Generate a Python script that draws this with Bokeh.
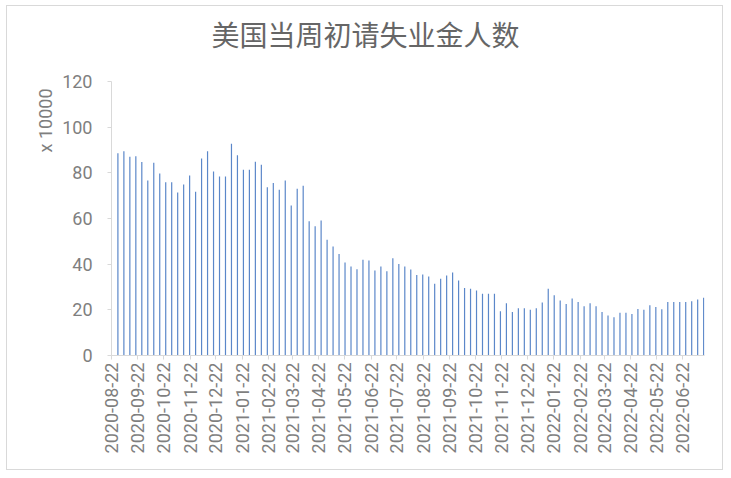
import pandas as pd
from math import pi
from bokeh.plotting import figure
from bokeh.models import (FixedTicker, DatetimeTickFormatter, Range1d,
                          ColumnDataSource, Title)
from bokeh.embed import file_html
from bokeh.resources import INLINE

title_text = "美国当周初请失业金人数"
y_unit_label = "x 10000"
first_week = "2020-08-29"

# weekly initial jobless claims, in units of 10,000
claims = [
    88.6, 89.5, 87.0, 87.3, 84.7, 76.6, 84.4, 79.7, 75.9, 75.9,
    71.4, 74.9, 78.8, 71.7, 86.3, 89.5, 80.6, 78.4, 78.4, 92.7,
    87.7, 81.3, 81.3, 84.8, 83.5, 73.7, 75.6, 72.6, 76.6, 65.7,
    73.0, 74.3, 58.8, 56.6, 59.1, 50.7, 47.7, 44.5, 40.7, 39.0,
    37.8, 41.9, 41.6, 37.2, 39.0, 36.9, 42.6, 40.1, 39.0, 37.7,
    35.2, 35.5, 34.6, 31.4, 33.6, 35.0, 36.4, 32.8, 29.6, 29.2,
    28.5, 27.0, 27.0, 27.0, 19.4, 22.9, 19.0, 20.7, 20.7, 20.0,
    20.7, 23.2, 29.2, 26.4, 24.1, 22.5, 25.0, 23.4, 21.6, 22.9,
    21.6, 19.0, 17.5, 16.8, 18.7, 18.7, 18.2, 20.4, 20.0, 22.0,
    21.2, 20.3, 23.4, 23.4, 23.4, 23.4, 23.8, 24.5, 25.3,
]

tick_labels = [
    "2020-08-22", "2020-09-22", "2020-10-22", "2020-11-22", "2020-12-22",
    "2021-01-22", "2021-02-22", "2021-03-22", "2021-04-22", "2021-05-22",
    "2021-06-22", "2021-07-22", "2021-08-22", "2021-09-22", "2021-10-22",
    "2021-11-22", "2021-12-22", "2022-01-22", "2022-02-22", "2022-03-22",
    "2022-04-22", "2022-05-22", "2022-06-22",
]
y_ticks = [0, 20, 40, 60, 80, 100, 120]
y_axis_max = 120
# frame extends a little above the axis top to leave room for the title
y_view_max = 132.26

axis_start = "2020-08-22"
axis_end = "2022-07-17 12:00"

bar_color = "#5B87C9"
axis_color = "#D9D9D9"
label_color = "#7F7F7F"
title_color = "#666666"
num_font = "Roboto"
cjk_font = "Noto Sans CJK SC"

weeks = pd.date_range(first_week, periods=len(claims), freq="7D") + pd.Timedelta(hours=12)
src = ColumnDataSource(dict(week=weeks, claims=claims))

p = figure(width=717, height=465, x_axis_type="datetime",
           output_backend="svg", toolbar_location=None,
           x_range=Range1d(pd.Timestamp(axis_start), pd.Timestamp(axis_end)),
           y_range=Range1d(0, y_view_max),
           min_border_left=104, min_border_right=20,
           min_border_top=47, min_border_bottom=116)
p.styles = {"border": "1px solid #D9D9D9", "margin": "5px 0 0 6px"}
p.outline_line_color = None
p.grid.visible = False
p.background_fill_color = "white"
p.border_fill_color = "white"

p.title.text = title_text
p.title.text_font = cjk_font
p.title.text_font_size = "28px"
p.title.text_font_style = "normal"
p.title.text_color = title_color
p.title.align = "left"
p.title.offset = 100
p.title.standoff = 0

p.vbar(x="week", top="claims", width=1.4 * 86400000, source=src,
       fill_color=bar_color, line_color=None)

# x axis
p.xaxis.ticker = FixedTicker(ticks=[pd.Timestamp(t).timestamp() * 1000 for t in tick_labels])
fmt = "%Y-%m-%d"
p.xaxis.formatter = DatetimeTickFormatter(
    microseconds=fmt, milliseconds=fmt, seconds=fmt, minsec=fmt, minutes=fmt,
    hourmin=fmt, hours=fmt, days=fmt, months=fmt, years=fmt)
p.xaxis.major_label_orientation = pi / 2
p.xaxis.major_label_standoff = 3

# y axis
p.yaxis.ticker = FixedTicker(ticks=y_ticks)
p.yaxis.bounds = (0, y_axis_max)
p.yaxis.major_label_standoff = 15

for ax in (p.xaxis, p.yaxis):
    ax.axis_line_color = axis_color
    ax.major_tick_line_color = axis_color
    ax.major_tick_in = 0
    ax.major_tick_out = 4
    ax.minor_tick_line_color = None
    ax.major_label_text_font = num_font
    ax.major_label_text_font_size = "18px"
    ax.major_label_text_color = label_color

unit_title = Title(text=y_unit_label, align="right", offset=35, standoff=8,
                   text_font=num_font, text_font_size="18px",
                   text_font_style="normal", text_color=label_color)
p.add_layout(unit_title, "left")

open("out.html", "w").write(file_html(p, INLINE))
